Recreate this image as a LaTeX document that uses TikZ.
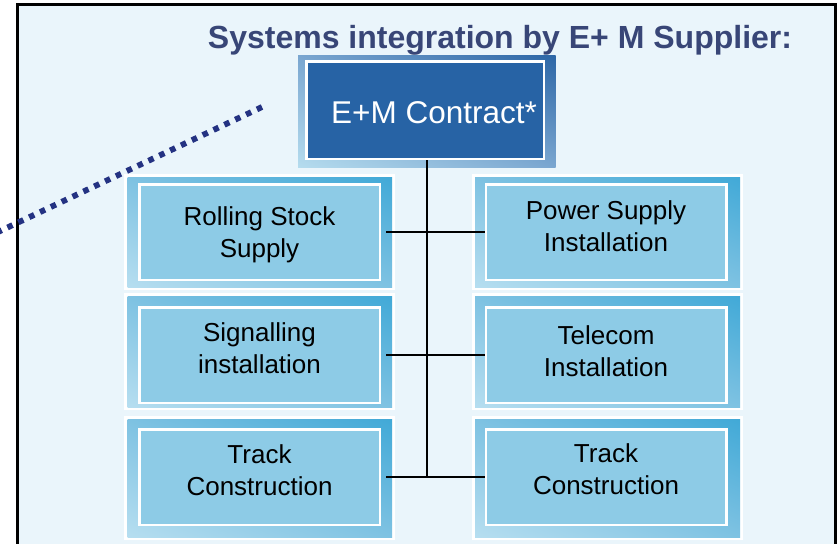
\documentclass[tikz,border=0pt]{standalone}
\usepackage{fontspec}
\setmainfont{Liberation Sans}
\usetikzlibrary{shadings}
\definecolor{bgblue}{HTML}{EAF5FB}
\definecolor{titleblue}{HTML}{384677}
\definecolor{subfill}{HTML}{8DCBE6}
\definecolor{frdark}{HTML}{41A9D7}
\definecolor{frlight}{HTML}{B6DEF0}
\definecolor{frmid}{HTML}{7EC2E2}
\definecolor{emfill}{HTML}{2763A5}
\definecolor{emdark}{HTML}{2C66A6}
\definecolor{emlight}{HTML}{B5DCEE}
\definecolor{emmid}{HTML}{7AA6D0}
\definecolor{dotnavy}{HTML}{243282}
\tikzset{
  subbox/.style={draw=white, line width=2.5pt, fill=subfill, inner sep=0pt,
    minimum width=240.5pt, minimum height=95.5pt},
  subtext/.style={inner sep=0pt, align=center, text=black,
    font=\fontsize{26}{32}\selectfont},
  embox/.style={draw=white, line width=2.5pt, fill=emfill, inner sep=0pt,
    minimum width=237.5pt, minimum height=97.5pt},
  emtext/.style={inner sep=0pt, text=white, font=\fontsize{31.5}{36}\selectfont},
  subframe/.style={lower left=frlight, upper right=frdark, upper left=frmid, lower right=frmid},
  emframe/.style={lower left=emlight, upper right=emdark, upper left=emmid, lower right=emmid},
  conn/.style={draw=black, line width=2.8pt},
  dots/.style={draw=dotnavy, line width=5.8pt, dash pattern=on 5.6pt off 6.4pt}
}
\begin{document}
\begin{tikzpicture}[x=1pt, y=-1pt]
\useasboundingbox (0,0) rectangle (839,544);
\clip (0,0) rectangle (839,544);
\fill[white] (0,0) rectangle (839,544);
% outer frame
\draw[line width=2.7pt, fill=bgblue] (17.3,4.7) rectangle (835.5,580);
% title
\node[anchor=base, text=titleblue, font=\fontsize{32}{38}\bfseries\selectfont, inner sep=0pt]
  (title) at (500,48) {Systems integration by E+ M Supplier:};
% white margins and gradient frames of the sub boxes
\foreach \ya/\yb in {177/287, 296/407, 419/537}{
  \fill[white] (124,\ya-3) rectangle (395,\yb+3);
  \fill[white] (472,\ya-3) rectangle (743,\yb+3);
  \shade[subframe] (127.5,\ya) rectangle (392,\yb);
  \shade[subframe] (475,\ya) rectangle (740,\yb);
}
% E+M frame
\shade[emframe] (298,55) rectangle (555.5,167);
% boxes
\node[embox] (em) at (425,110) {};
\node[subbox] (l1) at (259.5,232) {};
\node[subbox] (r1) at (606,232) {};
\node[subbox] (l2) at (259.5,355) {};
\node[subbox] (r2) at (606,355) {};
\node[subbox] (l3) at (259.5,477) {};
\node[subbox] (r3) at (606,477) {};
% texts
\node[emtext] (emt) at ([xshift=9pt,yshift=-2.5pt]em.center) {E+M Contract*};
\node[subtext] (l1t) at ([yshift=-3pt]l1.center) {Rolling Stock\\Supply};
\node[subtext] (r1t) at ([yshift=5.3pt]r1.center) {Power Supply\\Installation};
\node[subtext] (l2t) at ([yshift=7pt]l2.center) {Signalling\\installation};
\node[subtext] (r2t) at ([yshift=4pt]r2.center) {Telecom\\Installation};
\node[subtext] (l3t) at ([yshift=6.5pt]l3.center) {Track\\Construction};
\node[subtext] (r3t) at ([yshift=7.7pt]r3.center) {Track\\Construction};
% connectors
\coordinate (vend) at (427,477);
\draw[conn] (em.south -| vend) -- (vend);
\draw[conn] ([xshift=5pt]l1.east) -- (r1.west);
\draw[conn] ([xshift=5pt]l2.east) -- (r2.west);
\draw[conn] ([xshift=5pt]l3.east) -- (r3.west);
% dotted line
\coordinate (dA) at (-2,232);
\coordinate (dB) at (262,107);
\draw[dots] (dB) -- (dA);
\end{tikzpicture}
\end{document}
